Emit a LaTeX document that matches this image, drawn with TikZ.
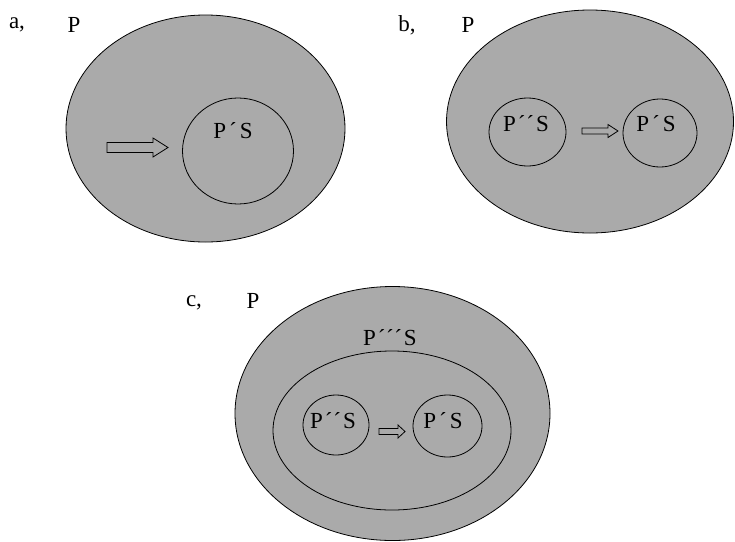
\documentclass[tikz,border=0pt]{standalone}
\usepackage{fontspec}
\setmainfont{Liberation Serif}
\usetikzlibrary{shapes.geometric}
\definecolor{fillgray}{RGB}{170,170,170}
\tikzset{
  outer/.style={ellipse, draw=black, line width=0.8pt, fill=fillgray, inner sep=0pt},
  inner/.style={ellipse, draw=black, line width=0.8pt, inner sep=0pt},
  lbl/.style={font=\rmfamily\fontsize{23}{26}\selectfont, inner sep=0pt},
  harrow/.style={draw=black, line width=0.8pt, line join=miter},
}
\newcommand\hollowarrow[6]{% x y len shaft head headlen
  \draw[harrow] (#1,#2-#4/2) -- (#1+#3-#6,#2-#4/2) -- (#1+#3-#6,#2-#5/2) -- (#1+#3,#2)
    -- (#1+#3-#6,#2+#5/2) -- (#1+#3-#6,#2+#4/2) -- (#1,#2+#4/2) -- cycle;}
\newcommand\pone{P\kern3pt´\kern3pt S}
\newcommand\ptwo{P\kern2pt´\kern1pt´\kern2pt S}
\newcommand\pthree{P\kern2pt´\kern0.5pt´\kern0.5pt´\kern2pt S}
\begin{document}
\begin{tikzpicture}[x=1pt,y=-1pt]
\useasboundingbox (0,0) rectangle (735,541);
% a
\node[outer, minimum width=279pt, minimum height=227pt] (Pa) at (205.5,128.5) {};
\node[inner, minimum width=111pt, minimum height=106pt] (Sa) at (238,151) {};
\node[lbl] (la) at (17,25) {a,};
\node[lbl] (pa) at (74,25) {P};
\node[lbl] (ta) at (233,131) {\pone};
\hollowarrow{107}{147.5}{61}{10}{19}{15}
% b
\node[outer, minimum width=287pt, minimum height=223pt] (Pb) at (590,121.5) {};
\node[inner, minimum width=77pt, minimum height=68pt] (S2b) at (527.5,132) {};
\node[inner, minimum width=74pt, minimum height=68pt] (S1b) at (660,133) {};
\node[lbl] (lb) at (407,25) {b,};
\node[lbl] (pb) at (468,25) {P};
\node[lbl] (t2b) at (526,124) {\ptwo};
\node[lbl] (t1b) at (656,124) {\pone};
\hollowarrow{582}{131}{36}{6}{13}{10}
% c
\node[outer, minimum width=315pt, minimum height=254pt] (Pc) at (392.5,413.5) {};
\node[inner, minimum width=238pt, minimum height=159pt] (S3c) at (392,430.5) {};
\node[inner, minimum width=66pt, minimum height=60pt] (S2c) at (336,425) {};
\node[inner, minimum width=69pt, minimum height=62pt] (S1c) at (447.5,426) {};
\node[lbl] (lc) at (194,303) {c,};
\node[lbl] (pc) at (253,301) {P};
\node[lbl] (t3c) at (390,338) {\pthree};
\node[lbl] (t2c) at (333,421) {\ptwo};
\node[lbl] (t1c) at (443,421) {\pone};
\hollowarrow{379}{431.5}{26}{6}{13}{7}
\end{tikzpicture}
\end{document}
